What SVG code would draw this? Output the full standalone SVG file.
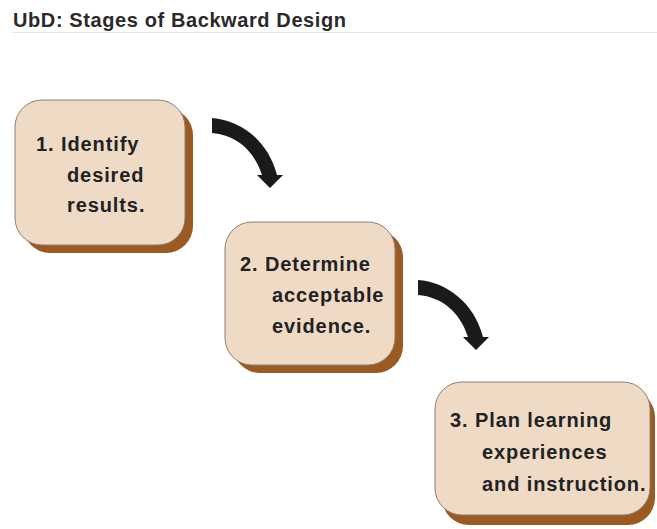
<svg xmlns="http://www.w3.org/2000/svg" width="657" height="529" viewBox="0 0 657 529">
<style>
.shadow{fill:#9a5a22}
.box{fill:#efdac6;stroke:#8c7f74;stroke-width:1}
.t{font-family:"Liberation Sans",Arial,sans-serif;font-weight:bold;font-size:20px;letter-spacing:0.9px;fill:#222}
.title{font-family:"Liberation Sans",Arial,sans-serif;font-weight:bold;font-size:20px;letter-spacing:0.6px;fill:#2a2a2a}
.arrow{fill:#1a1a1a}
</style>
<defs>
<path id="curvedArrow" d="M212,118 C240,120 268,140 277,175 L283,175 L270,188 L257,175 L262,175 C254,150 236,135 212,133 Z"/>
</defs>
<g id="title">
<text class="title" x="13" y="27">UbD: Stages of Backward Design</text>
<line x1="13" y1="32.5" x2="657" y2="32.5" stroke="#e2e2e2" stroke-width="1"/>
</g>
<g id="connectors">
<use href="#curvedArrow" class="arrow"/>
<use href="#curvedArrow" class="arrow" transform="translate(206,162)"/>
</g>
<g id="node1">
<rect class="shadow" x="23" y="108" width="170" height="145" rx="27"/>
<rect class="box" x="15" y="100" width="170" height="145" rx="27"/>
<text class="t" x="36" y="151">1. Identify</text>
<text class="t" x="67" y="181.5">desired</text>
<text class="t" x="67" y="212">results.</text>
</g>
<g id="node2">
<rect class="shadow" x="233" y="230" width="170" height="143" rx="27"/>
<rect class="box" x="225" y="222" width="170" height="143" rx="27"/>
<text class="t" x="240" y="271">2. Determine</text>
<text class="t" x="272" y="302">acceptable</text>
<text class="t" x="272" y="333">evidence.</text>
</g>
<g id="node3">
<rect class="shadow" x="442" y="390" width="213" height="135" rx="27"/>
<rect class="box" x="435" y="382" width="215" height="133" rx="27"/>
<text class="t" x="450" y="427">3. Plan learning</text>
<text class="t" x="482" y="459">experiences</text>
<text class="t" x="482" y="491">and instruction.</text>
</g>
</svg>
